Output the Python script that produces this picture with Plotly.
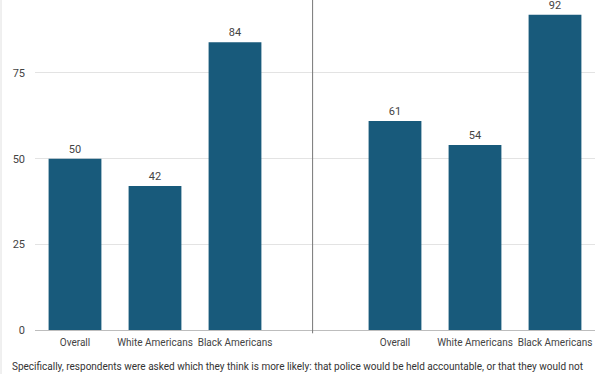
import plotly.graph_objects as go

categories = ["Overall", "White Americans", "Black Americans"]
left_values = [50, 42, 84]
right_values = [61, 54, 92]
y_ticks = [0, 25, 50, 75]
caption = ("Specifically, respondents were asked which they think is more likely: that police would be held accountable, or that they would not")

# positions: 0,1,2 left group; 3 gap; 4,5,6 right group
x_left = [0, 1, 2]
x_right = [4, 5, 6]
xs = x_left + x_right
vals = left_values + right_values
labels = categories + categories

BAR = "#185a7b"

fig = go.Figure()
fig.add_trace(go.Bar(
    x=xs, y=vals, width=0.66,
    marker=dict(color=BAR, line=dict(width=0)),
    text=[str(v) for v in vals], textposition="outside",
    textfont=dict(family="Roboto, Arial, sans-serif", size=11, color="#444"),
    cliponaxis=False, hoverinfo="skip",
))

fig.update_layout(
    width=612, height=374,
    margin=dict(l=35, r=17, t=0, b=44, autoexpand=False),
    paper_bgcolor="white", plot_bgcolor="white",
    showlegend=False,
    font=dict(family="Roboto, Arial, sans-serif", size=11, color="#444"),
    xaxis=dict(
        range=[-0.5, 6.5], tickvals=xs, ticktext=labels, tickangle=0,
        automargin=False, ticklabelstandoff=5,
        showgrid=False, zeroline=False, showline=False, ticks="",
        tickfont=dict(size=10, color="#444"),
    ),
    yaxis=dict(
        range=[0, 96.3], tickvals=y_ticks, showgrid=True, gridcolor="#e3e3e3",
        automargin=False,
        gridwidth=1, zeroline=True, zerolinecolor="#bdbdbd", zerolinewidth=1,
        ticks="", ticklabelstandoff=9, tickfont=dict(size=11, color="#444"),
    ),
)

# separator between the two groups
fig.add_shape(type="line", xref="x", yref="paper", x0=2.97, x1=2.97, y0=-0.01, y1=1,
              line=dict(color="#777", width=1))
# left border of the card
fig.add_shape(type="line", xref="paper", yref="paper", x0=-0.0607, x1=-0.0607,
              y0=-0.14, y1=1, line=dict(color="#e0e0e0", width=1))

fig.add_annotation(text=caption, xref="paper", yref="paper", x=-0.045, y=-0.088,
                   xanchor="left", yanchor="top", showarrow=False, align="left",
                   font=dict(size=10, color="#333"))

fig.write_html("out.html", config={"displayModeBar": False},
               post_script="document.body.style.margin='0';document.body.style.overflow='hidden';")
